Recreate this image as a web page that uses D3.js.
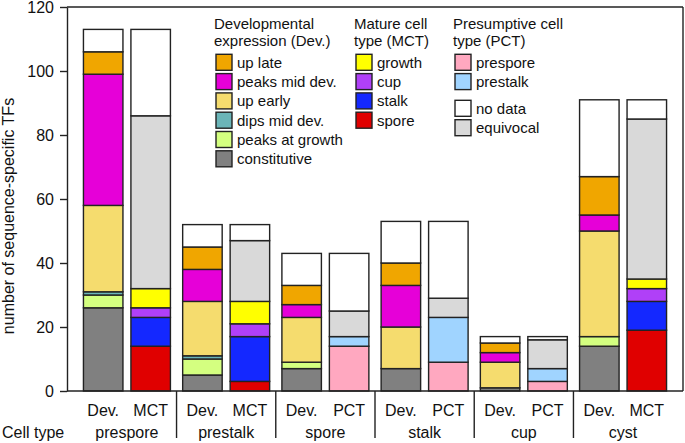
<!DOCTYPE html>
<html><head><meta charset="utf-8">
<script src="https://cdn.jsdelivr.net/npm/d3@7"></script>
<style>
html,body{margin:0;padding:0;background:#fff;}
svg{display:block;font-family:"Liberation Sans",Arial,Helvetica,sans-serif;}
</style></head>
<body>
<svg id="c" width="685" height="443"></svg>
<script>
// ---- data ----
const categories = ["prespore", "prestalk", "spore", "stalk", "cup", "cyst"];
const secondBarLabels = ["MCT", "MCT", "PCT", "PCT", "PCT", "MCT"];
const yTicks = [0, 20, 40, 60, 80, 100, 120];

// Developmental expression (Dev.) bar, bottom to top
const constitutive = [26, 5, 7, 7, 1, 14];
const peaksAtGrowth = [4, 5, 2, 0, 0, 3];
const dipsMidDev = [1, 1, 0, 0, 0, 0];
const upEarly = [27, 17, 14, 13, 8, 33];
const peaksMidDev = [41, 10, 4, 13, 3, 5];
const upLate = [7, 7, 6, 7, 3, 12];
const devNoData = [7, 7, 10, 13, 2, 24];

// Cell type (MCT / PCT) bar, bottom to top
const mctSpore = [14, 3, 0, 0, 0, 19];
const mctStalk = [9, 14, 0, 0, 0, 9];
const mctCup = [3, 4, 0, 0, 0, 4];
const mctGrowth = [6, 7, 0, 0, 0, 3];
const pctPrespore = [0, 0, 14, 9, 3, 0];
const pctPrestalk = [0, 0, 3, 14, 4, 0];
const equivocal = [54, 19, 8, 6, 9, 50];
const ctNoData = [27, 5, 18, 24, 1, 6];

const devKeys = ["constitutive", "peaksAtGrowth", "dipsMidDev", "upEarly", "peaksMidDev", "upLate", "devNoData"];
const ctKeys = ["mctSpore", "mctStalk", "mctCup", "mctGrowth", "pctPrespore", "pctPrestalk", "equivocal", "ctNoData"];
const seriesData = {constitutive, peaksAtGrowth, dipsMidDev, upEarly, peaksMidDev, upLate, devNoData,
  mctSpore, mctStalk, mctCup, mctGrowth, pctPrespore, pctPrestalk, equivocal, ctNoData};

const colors = {
  upLate: "#f0a600", peaksMidDev: "#e600d8", upEarly: "#f5dc6e", dipsMidDev: "#6bb5b8",
  peaksAtGrowth: "#d4ff80", constitutive: "#808080",
  mctGrowth: "#ffff00", mctCup: "#b040f8", mctStalk: "#1428ff", mctSpore: "#e00000",
  pctPrespore: "#ffa8c0", pctPrestalk: "#a0d4ff",
  devNoData: "#ffffff", ctNoData: "#ffffff", equivocal: "#d9d9d9"
};

// ---- layout ----
const svg = d3.select("#c");
const mLeft = 67, mRight = 683, mTop = 7, mBottom = 391;
const stroke = "#222";

const y = d3.scaleLinear().domain([0, 120]).range([mBottom, mTop]);
const x0 = d3.scaleBand().domain(categories).range([mLeft, mRight]).paddingInner(0).paddingOuter(0.104);
const x1 = d3.scaleBand().domain(["dev", "ct"]).range([0, x0.bandwidth()]).paddingInner(0.168).paddingOuter(0.129);

// build tables
const rows = categories.map((c, i) => {
  const r = {cat: c};
  Object.keys(seriesData).forEach(k => r[k] = seriesData[k][i]);
  return r;
});
const devStack = d3.stack().keys(devKeys)(rows);
const ctStack = d3.stack().keys(ctKeys)(rows);

function drawStack(stack, sub) {
  stack.forEach(layer => {
    svg.append("g").selectAll("rect")
      .data(layer.filter(d => d[1] - d[0] > 0))
      .join("rect")
      .attr("x", d => x0(d.data.cat) + x1(sub))
      .attr("width", x1.bandwidth())
      .attr("y", d => y(d[1]))
      .attr("height", d => y(d[0]) - y(d[1]))
      .attr("fill", colors[layer.key])
      .attr("stroke", stroke)
      .attr("stroke-width", 1.4);
  });
}
drawStack(devStack, "dev");
drawStack(ctStack, "ct");

// frame + axis
const yAxis = d3.axisLeft(y).tickValues(yTicks).tickSize(7).tickPadding(6).tickSizeOuter(0);
const ga = svg.append("g").attr("transform", `translate(${mLeft},0)`).call(yAxis);
ga.select(".domain").attr("stroke", stroke).attr("stroke-width", 1.4);
ga.selectAll(".tick line").attr("stroke", stroke).attr("stroke-width", 1.4);
ga.selectAll(".tick text").attr("font-size", 16).attr("fill", "#111")
  .attr("font-family", "Liberation Sans, Arial, sans-serif");

svg.append("line").attr("x1", mLeft).attr("x2", mRight).attr("y1", mTop).attr("y2", mTop)
  .attr("stroke", stroke).attr("stroke-width", 1.4);
svg.append("line").attr("x1", mRight).attr("x2", mRight).attr("y1", mTop).attr("y2", mBottom)
  .attr("stroke", stroke).attr("stroke-width", 1.4);
svg.append("line").attr("x1", mLeft).attr("x2", mRight).attr("y1", mBottom).attr("y2", mBottom)
  .attr("stroke", stroke).attr("stroke-width", 1.4);

// dividers under axis
categories.slice(1).forEach(c => {
  svg.append("line").attr("x1", x0(c)).attr("x2", x0(c)).attr("y1", mBottom).attr("y2", 438)
    .attr("stroke", stroke).attr("stroke-width", 1.4);
});

// x labels
categories.forEach((c, i) => {
  svg.append("text").attr("x", x0(c) + x1("dev") + x1.bandwidth() / 2).attr("y", 416)
    .attr("text-anchor", "middle").attr("font-size", 16).attr("fill", "#111").text("Dev.");
  svg.append("text").attr("x", x0(c) + x1("ct") + x1.bandwidth() / 2).attr("y", 416)
    .attr("text-anchor", "middle").attr("font-size", 16).attr("fill", "#111").text(secondBarLabels[i]);
  svg.append("text").attr("x", x0(c) + x0.bandwidth() / 2).attr("y", 438)
    .attr("text-anchor", "middle").attr("font-size", 16).attr("fill", "#111").text(c);
});
svg.append("text").attr("x", 2).attr("y", 438).attr("font-size", 16).attr("fill", "#111").text("Cell type");

// y title
svg.append("text").attr("transform", "translate(14,216) rotate(-90)")
  .attr("text-anchor", "middle").attr("font-size", 16).attr("fill", "#111")
  .text("number of sequence-specific TFs");

// legend
const legendGroups = [
  {x: 216, title: ["Developmental", "expression (Dev.)"],
   items: [["upLate", "up late"], ["peaksMidDev", "peaks mid dev."], ["upEarly", "up early"],
           ["dipsMidDev", "dips mid dev."], ["peaksAtGrowth", "peaks at growth"], ["constitutive", "constitutive"]]},
  {x: 356, title: ["Mature cell", "type (MCT)"],
   items: [["mctGrowth", "growth"], ["mctCup", "cup"], ["mctStalk", "stalk"], ["mctSpore", "spore"]]},
  {x: 455, title: ["Presumptive cell", "type (PCT)"],
   items: [["pctPrespore", "prespore"], ["pctPrestalk", "prestalk"]],
   extra: [["ctNoData", "no data"], ["equivocal", "equivocal"]]}
];
const rowY = [62.3, 81.6, 100.9, 120.2, 139.5, 158.8];
legendGroups.forEach(g => {
  const lg = svg.append("g");
  g.title.forEach((t, i) => {
    lg.append("text").attr("x", g.x - 2).attr("y", 28.8 + i * 17.3)
      .attr("font-size", 15).attr("fill", "#111").text(t);
  });
  const drawItem = (it, cy) => {
    lg.append("rect").attr("x", g.x).attr("y", cy - 8).attr("width", 16).attr("height", 16)
      .attr("fill", colors[it[0]]).attr("stroke", stroke).attr("stroke-width", 1.4);
    lg.append("text").attr("x", g.x + 21).attr("y", cy + 5.3).attr("font-size", 15).attr("fill", "#111").text(it[1]);
  };
  g.items.forEach((it, i) => drawItem(it, rowY[i]));
  if (g.extra) g.extra.forEach((it, i) => drawItem(it, 108.3 + i * 19.4));
});
</script>
</body></html>
